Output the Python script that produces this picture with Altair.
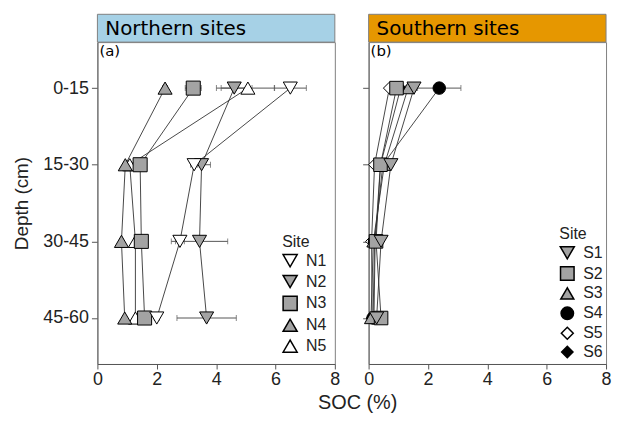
import altair as alt
import pandas as pd

depths = ["0-15", "15-30", "30-45", "45-60"]

north_sites = ["N1", "N2", "N3", "N4", "N5"]
north_soc = {
    "N1": [6.50, 3.26, 2.78, 2.00],
    "N2": [4.61, 3.51, 3.44, 3.68],
    "N3": [3.23, 1.44, 1.48, 1.59],
    "N4": [2.28, 0.94, 0.81, 0.92],
    "N5": [5.07, 1.09, 1.28, 1.28],
}
north_err = {
    "N1": [0.54, 0.12, 0.15, 0.08],
    "N2": [0.60, 0.30, 0.95, 1.00],
    "N3": [0.27, 0.08, 0.20, 0.08],
    "N4": [0.08, 0.06, 0.06, 0.05],
    "N5": [0.90, 0.06, 0.06, 0.06],
}
north_shapes = ["triangle-down", "triangle-down", "square", "triangle-up", "triangle-up"]
north_fills = ["white", "#a3a3a3", "#a3a3a3", "#a3a3a3", "white"]
north_sizes = [200, 200, 130, 200, 200]

south_sites = ["S1", "S2", "S3", "S4", "S5", "S6"]
south_soc = {
    "S1": [1.53, 0.75, 0.42, 0.27],
    "S2": [0.94, 0.40, 0.25, 0.42],
    "S3": [1.33, 0.53, 0.16, 0.08],
    "S4": [2.38, 0.48, 0.20, 0.15],
    "S5": [0.70, 0.20, 0.10, 0.12],
    "S6": [1.08, 0.40, 0.22, 0.18],
}
south_err = {
    "S1": [0.08, 0.06, 0.05, 0.04],
    "S2": [0.10, 0.06, 0.05, 0.05],
    "S3": [0.08, 0.05, 0.04, 0.03],
    "S4": [0.73, 0.06, 0.05, 0.04],
    "S5": [0.06, 0.04, 0.03, 0.03],
    "S6": [0.06, 0.05, 0.04, 0.03],
}
south_shapes = ["triangle-down", "square", "triangle-up", "circle", "diamond", "diamond"]
south_fills = ["#a3a3a3", "#a3a3a3", "#a3a3a3", "black", "white", "black"]
south_sizes = [200, 130, 200, 85, 140, 140]

panel_titles = ["Northern sites", "Southern sites"]
panel_tags = ["(a)", "(b)"]
header_colors = ["#a6d1e6", "#e69700"]
x_title = "SOC (%)"

W, H = 239, 324
LABEL_FONT = "Liberation Sans"


def make_df(sites, soc, err):
    rows = []
    for k, s in enumerate(sites):
        for i, d in enumerate(depths):
            v = soc[s][i]
            e = err[s][i]
            rows.append({"site": s, "k": k, "depth": d, "d": i, "soc": v,
                         "lo": v - e, "hi": v + e})
    return pd.DataFrame(rows)


def panel(sites, soc, err, shapes, fills, sizes, title, tag, hcolor, first, leg_offset):
    df = make_df(sites, soc, err)
    yscale = alt.Scale(type="point", domain=depths, padding=0.6)
    if first:
        yaxis = alt.Axis(title="Depth (cm)", titleFont=LABEL_FONT, titleFontSize=19,
                         titleFontWeight="normal", titlePadding=11, titleColor="#222",
                         labelFont=LABEL_FONT, labelFontSize=18, labelColor="#222",
                         tickSize=6, tickColor="#555", domainColor="#666", labelPadding=3)
    else:
        yaxis = alt.Axis(title=None, labels=False, tickSize=6, tickColor="#555",
                         domainColor="#666")
    xscale = alt.Scale(domain=[0, 8], nice=False, zero=False)
    xaxis = alt.Axis(values=list(range(9)), grid=False, tickSize=5, tickColor="#555",
                     domainColor="#555", labelFont=LABEL_FONT, labelFontSize=18,
                     labelColor="#222", labelPadding=2, labelFlush=False,
                     labelOverlap=False, title=None)
    y = alt.Y("depth:N", scale=yscale, axis=yaxis, sort=depths)
    x = alt.X("soc:Q", scale=xscale, axis=xaxis)
    base = alt.Chart(df)
    lines = base.mark_line(color="#333", strokeWidth=0.9).encode(
        x=x, y=y, detail="site:N", order="d:Q")
    bars = base.mark_rule(color="#555", strokeWidth=1).encode(
        x=alt.X("lo:Q", scale=xscale), x2="hi:Q", y=y)
    cap_lo = base.mark_tick(orient="vertical", size=6, thickness=1, color="#555").encode(
        x=alt.X("lo:Q", scale=xscale), y=y)
    cap_hi = base.mark_tick(orient="vertical", size=6, thickness=1, color="#555").encode(
        x=alt.X("hi:Q", scale=xscale), y=y)
    leg = alt.Legend(title="Site", orient="bottom-right", offset=leg_offset,
                     titleFont=LABEL_FONT, titleFontSize=16, titleFontWeight="normal",
                     titleColor="#222",
                     labelFont=LABEL_FONT, labelFontSize=16, labelColor="#222",
                     rowPadding=1, titlePadding=3, labelOffset=8)
    pts = base.mark_point(filled=False, stroke="black", strokeWidth=1, opacity=1,
                          strokeOpacity=1, fillOpacity=1).encode(
        x=x, y=y,
        fill=alt.Fill("site:N", scale=alt.Scale(domain=sites, range=fills), legend=leg),
        shape=alt.Shape("site:N", scale=alt.Scale(domain=sites, range=shapes), legend=leg),
        size=alt.Size("site:N", scale=alt.Scale(domain=sites, range=sizes), legend=leg),
        stroke=alt.value("black"),
        strokeWidth=alt.value(1),
        order=alt.Order("k:Q", sort="descending"),
    )
    hdata = alt.Data(values=[{"t": title, "tag": tag}])
    head = alt.Chart(hdata).mark_rect(fill=hcolor, stroke="#808080", strokeWidth=1).encode(
        x=alt.value(0), x2=alt.value(W), y=alt.value(-28), y2=alt.value(0))
    htext = alt.Chart(hdata).mark_text(align="left", baseline="middle", font="DejaVu Sans",
                                        fontSize=20, color="black").encode(
        x=alt.value(8), y=alt.value(-13), text="t:N")
    tagtext = alt.Chart(hdata).mark_text(align="left", baseline="top", font="DejaVu Sans",
                                          fontSize=15, color="black").encode(
        x=alt.value(2), y=alt.value(2), text="tag:N")
    return alt.layer(lines, bars, cap_lo, cap_hi, pts, head, htext, tagtext).properties(
        width=W, height=H)


left = panel(north_sites, north_soc, north_err, north_shapes, north_fills, north_sizes,
             panel_titles[0], panel_tags[0], header_colors[0], True, 8)
right = panel(south_sites, south_soc, south_err, south_shapes, south_fills, south_sizes,
              panel_titles[1], panel_tags[1], header_colors[1], False, 3)

chart = alt.hconcat(left, right, spacing=21).resolve_scale(
    fill="independent", shape="independent", size="independent"
).resolve_legend(fill="independent", shape="independent", size="independent").properties(
    padding={"left": 4, "top": 4, "right": 0, "bottom": 0},
    title=alt.TitleParams(x_title, orient="bottom", anchor="middle", dx=46, offset=4,
                          font=LABEL_FONT, fontSize=20, fontWeight="normal", color="#222"),
).configure_view(stroke="#808080", strokeWidth=1)

chart.save("out.html", embed_options={"renderer": "svg", "actions": False})
